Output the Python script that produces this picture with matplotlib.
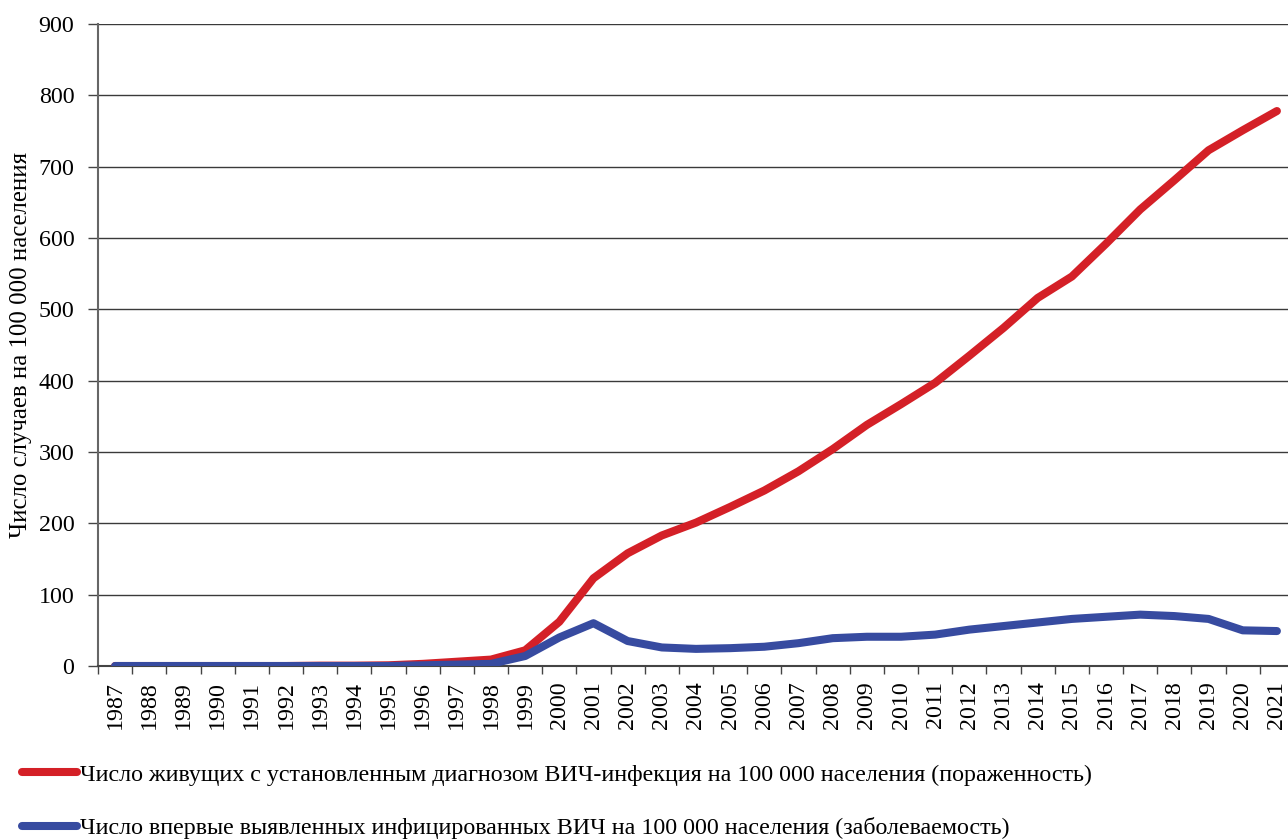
import numpy as np
import matplotlib.pyplot as plt
from matplotlib.lines import Line2D

# Data
years = list(range(1987, 2022))

prevalence = [0, 0, 0, 0, 0, 0, 0.5, 0.5, 1, 3, 6, 9, 22, 62,
              123, 158, 183, 201, 223, 246, 273, 304, 338, 367, 397,
              435, 474, 516, 546, 592, 640, 681, 723, 751, 778]

incidence = [0, 0, 0, 0, 0, 0, 0, 0, 0, 1, 2, 3, 14, 40,
             60, 35, 26, 24, 25, 27, 32, 39, 41, 41, 44,
             51, 56, 61, 66, 69, 72, 70, 66, 50, 49]

label_red = 'Число живущих с установленным диагнозом ВИЧ-инфекция на 100 000 населения (пораженность)'
label_blue = 'Число впервые выявленных инфицированных ВИЧ на 100 000 населения (заболеваемость)'
ylabel = 'Число случаев на 100 000 населения'

red = '#d42027'
blue = '#374ba0'
fs = 17.3

plt.rcParams['font.family'] = ['Liberation Serif', 'DejaVu Serif']

W, H = 1288, 839
fig = plt.figure(figsize=(W / 100, H / 100), dpi=100)
ax = fig.add_axes([98 / W, (H - 666) / H, (1294 - 98) / W, (666 - 24) / H])

x = np.arange(len(years))
ax.plot(x, prevalence, color=red, lw=5.8, solid_capstyle='round', solid_joinstyle='round', zorder=3)
ax.plot(x, incidence, color=blue, lw=5.8, solid_capstyle='round', solid_joinstyle='round', zorder=4)

ax.set_xlim(-0.5, len(years) - 0.5)
ax.set_ylim(0, 900)
ax.set_yticks(range(0, 901, 100))
ax.yaxis.grid(True, color='#3a3a3a', lw=1.0)
ax.set_axisbelow(True)

ax.set_xticks(x)
ax.set_xticklabels([str(y) for y in years], rotation=90, fontsize=fs)
ax.set_xticks(np.arange(-0.5, len(years), 1), minor=True)
ax.tick_params(axis='x', which='major', length=0, pad=11)
ax.tick_params(axis='x', which='minor', length=6, width=1, color='#444444', direction='out')
ax.tick_params(axis='y', length=7, width=1, color='#444444', labelsize=fs, pad=10)

for s in ['top', 'right']:
    ax.spines[s].set_visible(False)
ax.spines['left'].set_color('#666666')
ax.spines['left'].set_linewidth(1.5)
ax.spines['bottom'].set_color('#444444')
ax.spines['bottom'].set_linewidth(1.5)

ax.set_ylabel(ylabel, fontsize=fs + 0.5)
ax.yaxis.set_label_coords((32 - 98) / (1294 - 98), 0.5)

handles = [Line2D([], [], color=red, lw=5.8, solid_capstyle='round'),
           Line2D([], [], color=blue, lw=5.8, solid_capstyle='round')]
fig.legend(handles, [label_red, label_blue], loc='upper left',
           bbox_to_anchor=(22 / W, (H - 764) / H), frameon=False,
           fontsize=fs, handlelength=2.3, handletextpad=0.1, labelspacing=1.3,
           borderaxespad=0, borderpad=0)

fig.savefig('out.png', dpi=100)
